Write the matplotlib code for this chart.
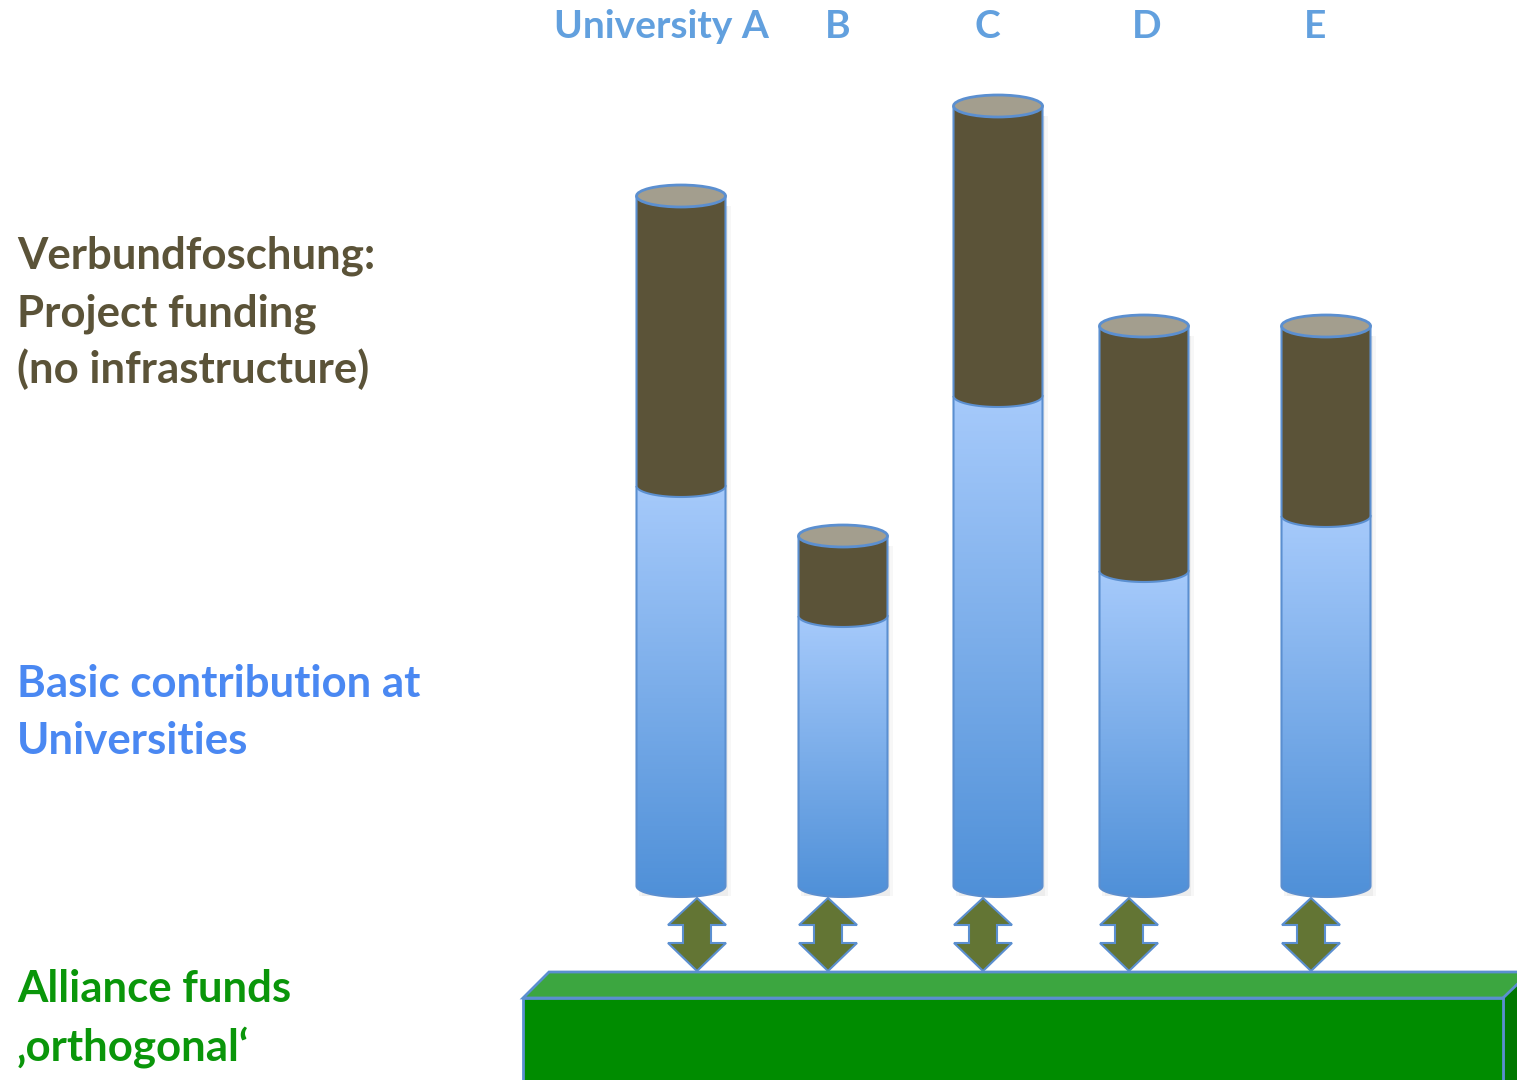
import numpy as np
import matplotlib
matplotlib.use("Agg")
import matplotlib.pyplot as plt
from matplotlib.patches import Ellipse, Polygon, Rectangle, PathPatch
from matplotlib.path import Path

universities = ["University A", "B", "C", "D", "E"]
basic = [40, 27, 49, 31.5, 37]       # basic contribution (blue part)
project = [29, 8, 29, 24.5, 19]      # project funding (brown part)

# layout (pixel-ish units on x, y values with 10 px per unit)
BASE = 886
def yv(py):
    return (BASE - py) / 10.0

centers = [681, 843, 998, 1144, 1326]
arrow_off = [16, -15, -15, -15, -15]
label_x = [661, 838, 987, 1147, 1315]
W = 89
EH = 2.2          # ellipse height in y units

BLUE_EDGE = "#5b8fd0"
BROWN = "#5b5338"
BROWN_TOP = "#a39e8e"

fig = plt.figure(figsize=(15.17, 10.8), dpi=100)
ax = fig.add_axes([0, 0, 1, 1])
ax.set_xlim(0, 1517)
ax.set_ylim(yv(1080), yv(0))
ax.axis("off")

# gradient for the blue part
grad = np.linspace(0, 1, 256).reshape(-1, 1)
cmap = matplotlib.colors.LinearSegmentedColormap.from_list("bl", ["#4f90d8", "#a6cafb"])

for cx, b, p in zip(centers, basic, project):
    x0 = cx - W / 2
    top = b + p
    # soft shadow
    for k, a in [(6, 0.03), (3, 0.04)]:
        ax.add_patch(Rectangle((x0 + k, -1.0), W, top, facecolor="#000000", alpha=a, lw=0, zorder=1))
    # blue body: rectangle + bottom half ellipse
    verts = [(x0, b), (x0, 0)]
    t = np.linspace(np.pi, 2 * np.pi, 40)
    verts += [(cx + W / 2 * np.cos(a), EH / 2 * np.sin(a)) for a in t]
    verts += [(x0 + W, b), (x0, b)]
    path = Path(verts)
    body = PathPatch(path, facecolor="none", edgecolor=BLUE_EDGE, lw=1.5, zorder=3)
    ax.add_patch(body)
    im = ax.imshow(grad, extent=(x0, x0 + W, -EH / 2, b), origin="lower", cmap=cmap,
                   aspect="auto", zorder=2)
    im.set_clip_path(body)
    # brown body
    verts = [(x0, top), (x0, b)]
    verts += [(cx + W / 2 * np.cos(a), b + EH / 2 * np.sin(a)) for a in t]
    verts += [(x0 + W, top), (x0, top)]
    ax.add_patch(PathPatch(Path(verts), facecolor=BROWN, edgecolor=BLUE_EDGE, lw=1.5, zorder=4))
    # top ellipse
    ax.add_patch(Ellipse((cx, top), W, EH, facecolor=BROWN_TOP, edgecolor=BLUE_EDGE, lw=2, zorder=5))

# double arrows
for cx, off in zip(centers, arrow_off):
    ax_ = cx + off
    pts = [(ax_, yv(898)), (ax_ + 29, yv(925)), (ax_ + 14, yv(925)), (ax_ + 14, yv(943)),
           (ax_ + 29, yv(943)), (ax_, yv(971)), (ax_ - 29, yv(943)), (ax_ - 14, yv(943)),
           (ax_ - 14, yv(925)), (ax_ - 29, yv(925))]
    ax.add_patch(Polygon(pts, closed=True, facecolor="#637534", edgecolor=BLUE_EDGE, lw=1.5, zorder=6))

# alliance platform
top_face = [(523, yv(998)), (549, yv(972)), (1545, yv(972)), (1503, yv(998))]
front = [(523, yv(998)), (1503, yv(998)), (1503, yv(1085)), (523, yv(1085))]
side = [(1503, yv(998)), (1530, yv(972)), (1530, yv(1085)), (1503, yv(1085))]
ax.add_patch(Polygon(top_face, facecolor="#3ca640", edgecolor=BLUE_EDGE, lw=2, zorder=7))
ax.add_patch(Polygon(side, facecolor="#007800", edgecolor=BLUE_EDGE, lw=2, zorder=7))
ax.add_patch(Polygon(front, facecolor="#008c00", edgecolor=BLUE_EDGE, lw=2, zorder=8))

font = dict(family="Lato", fontweight="bold")
for x, name in zip(label_x, universities):
    ax.text(x, yv(38), name, ha="center", va="baseline", color="#62a0de", fontsize=28, **font)

left = [("Verbundfoschung:", 268, BROWN), ("Project funding", 327, BROWN),
        ("(no infrastructure)", 383, BROWN),
        ("Basic contribution at", 697, "#4a88f2"), ("Universities", 754, "#4a88f2"),
        ("Alliance funds", 1002, "#0a960a"), ("\u201aorthogonal\u2018", 1060, "#0a960a")]
for s, py, c in left:
    ax.text(17, yv(py), s, ha="left", va="baseline", color=c, fontsize=31.5, **font)

fig.savefig("out.png", dpi=100)
